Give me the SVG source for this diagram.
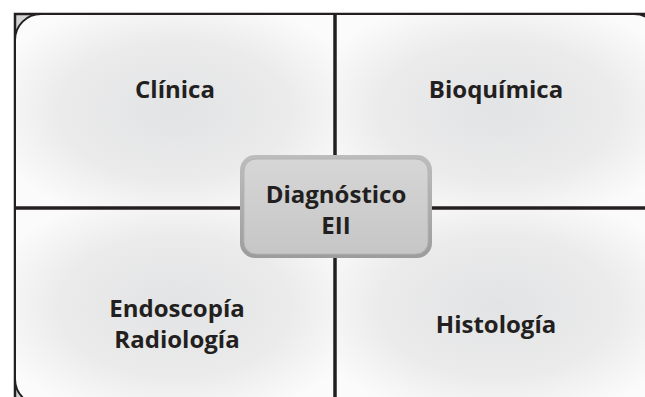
<svg xmlns="http://www.w3.org/2000/svg" width="645" height="397" viewBox="0 0 645 397">
  <style>
    .quad { stroke: #231f20; stroke-width: 2; }
    .label { font-family: "Open Sans", "Noto Sans", sans-serif; font-weight: bold; font-size: 24px; fill: #231f20; text-anchor: middle; }
    .divider { stroke: #231f20; stroke-width: 3.5; fill: none; }
  </style>
  <defs>
    <radialGradient id="qfill" cx="0.5" cy="0.5" r="0.6">
      <stop offset="0" stop-color="#e2e3e4"/>
      <stop offset="0.6" stop-color="#ebebec"/>
      <stop offset="1" stop-color="#fbfbfb"/>
    </radialGradient>
    <linearGradient id="cfill" x1="0" y1="0" x2="0" y2="1">
      <stop offset="0" stop-color="#d6d6d6"/>
      <stop offset="1" stop-color="#c6c6c6"/>
    </linearGradient>
    <linearGradient id="cring" x1="0" y1="0" x2="0" y2="1">
      <stop offset="0" stop-color="#bdbdbd"/>
      <stop offset="1" stop-color="#9c9c9c"/>
    </linearGradient>
  </defs>
  <rect width="645" height="397" fill="#ffffff"/>
  <rect id="frame" x="15" y="14" width="650" height="400" fill="#d4d4d4" stroke="#231f20" stroke-width="2.5"/>

  <g id="clinica">
    <path class="quad" fill="url(#qfill)" d="M15,40 A26,26 0 0 1 41,14 L335,14 L335,208 L15,208 Z"/>
    <text class="label" x="175" y="98">Clínica</text>
  </g>
  <g id="bioquimica">
    <path class="quad" fill="url(#qfill)" d="M335,14 L634,14 A26,26 0 0 1 660,40 L660,208 L335,208 Z"/>
    <text class="label" x="496" y="98">Bioquímica</text>
  </g>
  <g id="endoscopia">
    <path class="quad" fill="url(#qfill)" d="M15,208 L335,208 L335,405 L41,405 A26,26 0 0 1 15,379 Z"/>
    <text class="label" x="177" y="317">Endoscopía</text>
    <text class="label" x="177" y="348">Radiología</text>
  </g>
  <g id="histologia">
    <path class="quad" fill="url(#qfill)" d="M335,208 L660,208 L660,379 A26,26 0 0 1 634,405 L335,405 Z"/>
    <text class="label" x="496" y="333">Histología</text>
  </g>

  <g id="connectors">
    <line class="divider" x1="335" y1="14" x2="335" y2="397"/>
    <line class="divider" x1="15" y1="208" x2="645" y2="208"/>
  </g>

  <g id="diagnostico">
    <rect x="240" y="155" width="192" height="103" rx="15" fill="url(#cring)"/>
    <rect x="244" y="159" width="184" height="95" rx="12" fill="url(#cfill)" stroke="#b4b4b4" stroke-width="1"/>
    <text class="label" x="336" y="203">Diagnóstico</text>
    <text class="label" x="336" y="234">EII</text>
  </g>
</svg>
